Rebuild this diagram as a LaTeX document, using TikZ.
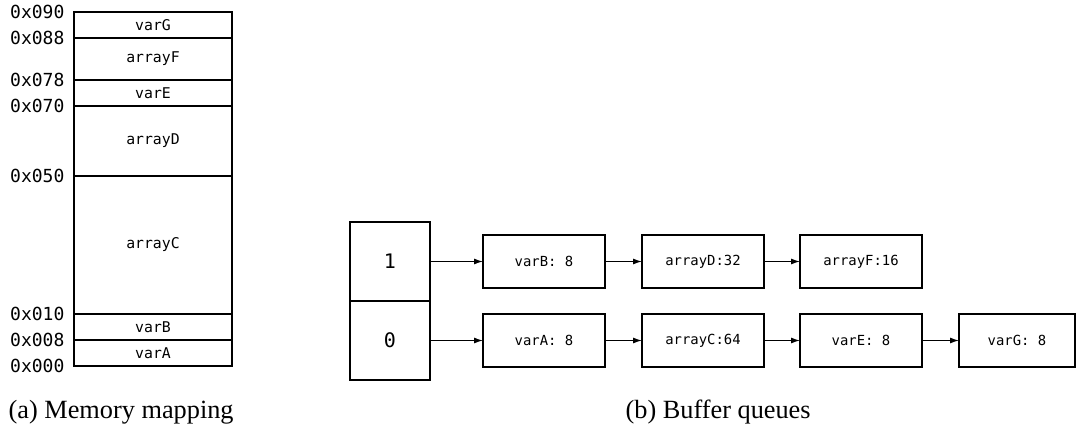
\documentclass[tikz,border=0pt]{standalone}
\usepackage{fontspec}
\setmainfont{Liberation Serif}
\setmonofont{DejaVu Sans Mono}
\usetikzlibrary{arrows.meta,positioning}

\begin{document}
\begin{tikzpicture}[x=1pt, y=-1pt, line width=1.3pt,
    cell/.style={draw, rectangle, minimum width=158pt, inner sep=0pt, outer sep=0pt, font=\fontsize{14.8}{16}\ttfamily},
    addr/.style={anchor=east, inner sep=0pt, font=\fontsize{18}{20}\ttfamily},
    head/.style={draw, rectangle, minimum width=80pt, minimum height=79pt, inner sep=0pt, outer sep=0pt, font=\fontsize{20}{22}\ttfamily},
    item/.style={draw, rectangle, minimum width=122pt, minimum height=53pt, inner sep=0pt, outer sep=0pt, font=\fontsize{13.9}{15}\ttfamily},
    link/.style={-{Latex[length=9pt,width=6pt]}, line width=1.2pt},
    caption/.style={anchor=base west, inner sep=0pt, font=\fontsize{26.3}{29}\selectfont}]
    \useasboundingbox (0,0) rectangle (1076,430);

    % memory mapping
    \node[cell, minimum height=26pt, anchor=north west] (varG) at (74,12) {varG};
    \node[cell, minimum height=42pt, below=0pt of varG] (arrayF) {arrayF};
    \node[cell, minimum height=26pt, below=0pt of arrayF] (varE) {varE};
    \node[cell, minimum height=70pt, below=0pt of varE] (arrayD) {arrayD};
    \node[cell, minimum height=138pt, below=0pt of arrayD] (arrayC) {arrayC};
    \node[cell, minimum height=26pt, below=0pt of arrayC] (varB) {varB};
    \node[cell, minimum height=26pt, below=0pt of varB] (varA) {varA};

    \node[addr] (a090) at ([xshift=-9pt]varG.north west) {0x090};
    \node[addr] (a088) at ([xshift=-9pt]arrayF.north west) {0x088};
    \node[addr] (a078) at ([xshift=-9pt]varE.north west) {0x078};
    \node[addr] (a070) at ([xshift=-9pt]arrayD.north west) {0x070};
    \node[addr] (a050) at ([xshift=-9pt]arrayC.north west) {0x050};
    \node[addr] (a010) at ([xshift=-9pt]varB.north west) {0x010};
    \node[addr] (a008) at ([xshift=-9pt]varA.north west) {0x008};
    \node[addr] (a000) at ([xshift=-9pt]varA.south west) {0x000};

    % buffer queues
    \node[head, anchor=north west] (one) at (350,222) {1};
    \node[head, below=0pt of one] (zero) {0};

    \node[item, right=53pt of one] (qvarB) {varB: 8};
    \node[item, right=37pt of qvarB] (qarrayD) {arrayD:32};
    \node[item, right=36pt of qarrayD] (qarrayF) {arrayF:16};

    \node[item, right=53pt of zero] (qvarA) {varA: 8};
    \node[item, right=37pt of qvarA] (qarrayC) {arrayC:64};
    \node[item, right=36pt of qarrayC] (qvarE) {varE: 8};
    \node[item, minimum width=116pt, right=37pt of qvarE] (qvarG) {varG: 8};

    \draw[link] (one) -- (qvarB);
    \draw[link] (qvarB) -- (qarrayD);
    \draw[link] (qarrayD) -- (qarrayF);
    \draw[link] (zero) -- (qvarA);
    \draw[link] (qvarA) -- (qarrayC);
    \draw[link] (qarrayC) -- (qvarE);
    \draw[link] (qvarE) -- (qvarG);

    % captions
    \node[caption] (capa) at (8,418) {(a) Memory mapping};
    \node[caption] (capb) at (625,418) {(b) Buffer queues};
\end{tikzpicture}
\end{document}
